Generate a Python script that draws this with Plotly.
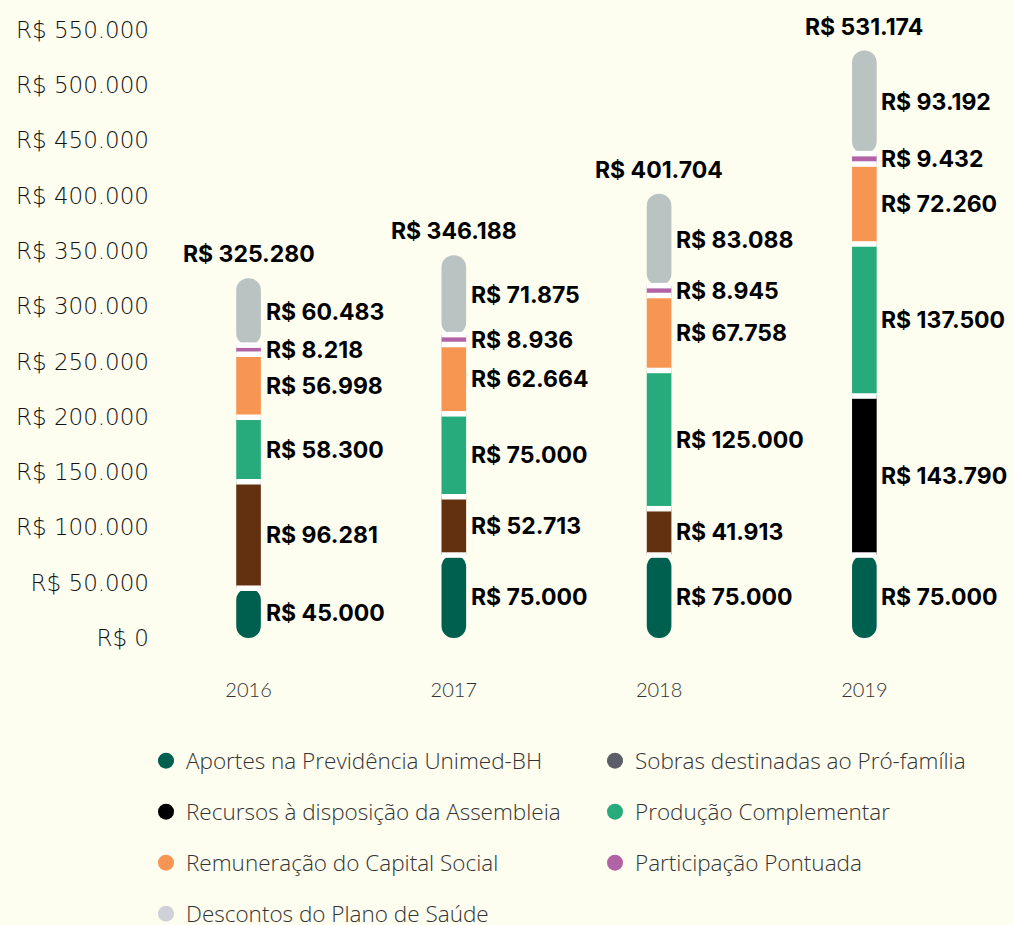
import plotly.graph_objects as go

# valores por ano (R$)
years = ["2016", "2017", "2018", "2019"]
aportes = [45000, 75000, 75000, 75000]
sobras = [96281, 52713, 41913, None]
recursos = [None, None, None, 143790]
producao = [58300, 75000, 125000, 137500]
remuneracao = [56998, 62664, 67758, 72260]
participacao = [8218, 8936, 8945, 9432]
descontos = [60483, 71875, 83088, 93192]
totais = [325280, 346188, 401704, 531174]

y_ticks = list(range(0, 550001, 50000))


def brl(v):
    return "R$ " + f"{v:,}".replace(",", ".")


# bottom -> top: (name, values, bar color, legend color)
series = [
    ("Aportes na Previdência Unimed-BH", aportes, "#00604f", "#00604f"),
    ("Sobras destinadas ao Pró-família", sobras, "#633110", "#5c5f68"),
    ("Recursos à disposição da Assembleia", recursos, "#000000", "#000000"),
    ("Produção Complementar", producao, "#27aa7c", "#27aa7c"),
    ("Remuneração do Capital Social", remuneracao, "#f79552", "#f79552"),
    ("Participação Pontuada", participacao, "#b163a6", "#b163a6"),
    ("Descontos do Plano de Saúde", descontos, "#b9c3c2", "#cfd1d6"),
]

BAR_W = 0.12
GAP = 5000  # white gap between segments, in data units
BG = "#fdfdf0"
label_font = dict(family="Inter", size=23, color="#000000", weight=700)

fig = go.Figure()
annotations = []
cum = [0] * len(years)
boundaries_x, boundaries_y = [], []

for k, (name, vals, color, _) in enumerate(series):
    xs, ys, bases = [], [], []
    for i, v in enumerate(vals):
        if v is None:
            continue
        if k == 0:
            # drawn downwards so the rounded end sits at the bottom
            xs.append(years[i]); ys.append(-v); bases.append(cum[i] + v)
        else:
            xs.append(years[i]); ys.append(v); bases.append(cum[i])
            boundaries_x.append(years[i]); boundaries_y.append(cum[i])
        annotations.append(dict(x=i, y=cum[i] + v / 2, text=brl(v),
                                xref="x", yref="y",
                                showarrow=False, xanchor="left", xshift=15,
                                font=label_font))
        cum[i] += v
    radius = "50%" if k in (0, len(series) - 1) else 0
    fig.add_trace(go.Bar(x=xs, y=ys, base=bases, width=BAR_W,
                         marker=dict(color=color, line_width=0, cornerradius=radius),
                         showlegend=False, hoverinfo="skip"))

# white separators between stacked segments
fig.add_trace(go.Bar(x=boundaries_x, y=[GAP] * len(boundaries_y),
                     base=[b - GAP / 2 for b in boundaries_y], width=BAR_W,
                     marker=dict(color="#ffffff", line_width=0),
                     showlegend=False, hoverinfo="skip"))

for i, t in enumerate(totais):
    annotations.append(dict(x=i, y=t, text=brl(t), showarrow=False,
                            xref="x", yref="y",
                            yanchor="bottom", yshift=8, font=label_font))

# legend: one legend per row, two columns
legend_names = ["legend", "legend2", "legend3", "legend4"]
row_y = [761, 812, 863, 914]
for k, (name, vals, color, lcolor) in enumerate(series):
    fig.add_trace(go.Scatter(x=[None], y=[None], mode="markers", name=name,
                             marker=dict(size=16, color=lcolor),
                             legend=legend_names[k // 2], hoverinfo="skip"))

legend_style = dict(orientation="h", x=-0.0049, xanchor="left", yanchor="middle",
                    entrywidth=404, bgcolor="rgba(0,0,0,0)",
                    itemclick=False, itemdoubleclick=False,
                    font=dict(family="Open Sans", size=22.5, color="#333333", weight=300))
legends = {}
for name, ry in zip(legend_names, row_y):
    legends[name] = dict(legend_style, y=(638 - ry) / 616)

fig.update_layout(
    width=1014, height=925,
    barmode="overlay",
    paper_bgcolor=BG, plot_bgcolor=BG,
    margin=dict(l=150, r=47, t=22, b=287, autoexpand=False),
    annotations=annotations,
    xaxis=dict(type="category", range=[-0.48, 3.5], showgrid=False,
               showline=False, zeroline=False, ticks="", ticklabelstandoff=38,
               tickfont=dict(family="Lato", size=20, color="#333333", weight=300)),
    yaxis=dict(range=[0, 557000], showgrid=False, zeroline=False, showline=False,
               tickvals=y_ticks, ticktext=[brl(v) for v in y_ticks],
               tickfont=dict(family="DejaVu Sans", size=23, color="#111111", weight=300)),
    **legends,
)

fig.write_html("out.html", config={"displayModeBar": False},
               post_script="document.body.style.margin='0';")
